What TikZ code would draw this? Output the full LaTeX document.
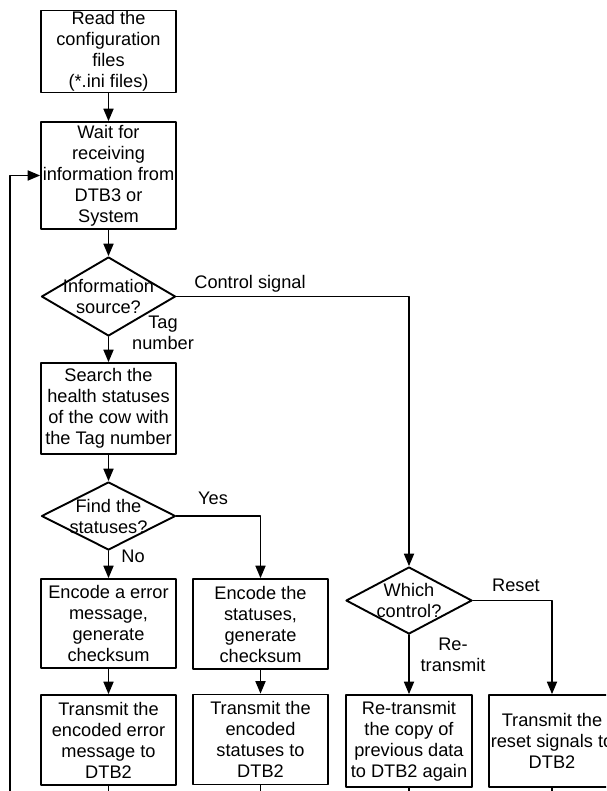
\documentclass[tikz,border=0pt]{standalone}
\usepackage{fontspec}
\setmainfont{Liberation Sans}
\usetikzlibrary{arrows,shapes.geometric}

\begin{document}
\begin{tikzpicture}[line cap=round,line join=round,>=triangle 45,x=1pt,y=-1pt,line width=1.9pt,
	every node/.style={font=\fontsize{18.2}{21}\selectfont,inner sep=0pt},
	box/.style={draw,align=center,minimum width=135pt},
	nbox/.style={box,minimum width=126pt},
	dia/.style={diamond,draw,minimum width=134pt},
	lbl/.style={align=center}]
			\clip(0,0) rectangle (606,791);
			% left column
			\node[box,minimum height=82pt] (read) at (108.5,51.5) {Read the\\configuration\\files\\(*.ini files)};
			\node[box,minimum height=107pt] (wait) at (108.5,175.5) {Wait for\\receiving\\information from\\DTB3 or\\System};
			\node[dia,minimum height=79pt,label={[lbl]center:Information\\source?}] (src) at (108.5,296.5) {};
			\node[box,minimum height=91pt] (search) at (108.5,408.5) {Search the\\health statuses\\of the cow with\\the Tag number};
			\node[dia,minimum height=68pt,label={[lbl]center:Find the\\statuses?}] (find) at (108.5,516) {};
			\node[box,minimum height=89pt] (encerr) at (108.5,623.5) {Encode a error\\message,\\generate\\checksum};
			\node[box,minimum height=90pt] (txerr) at (108.5,740) {Transmit the\\encoded error\\message to\\DTB2};
			% second column
			\node[box,minimum height=90pt] (encsta) at (260.5,624) {Encode the\\statuses,\\generate\\checksum};
			\node[box,minimum height=90pt] (txsta) at (260.5,739.5) {Transmit the\\encoded\\statuses to\\DTB2};
			% control branch
			\node[dia,minimum width=126pt,minimum height=67pt,label={[lbl]center:Which\\control?}] (which) at (409,600.5) {};
			\node[nbox,minimum height=92pt] (retx) at (409,741) {Re-transmit\\the copy of\\previous data\\to DTB2 again};
			\node[nbox,minimum height=92pt] (txrst) at (552,741) {Transmit the\\reset signals to\\DTB2};
			\coordinate (fb) at (10,800);
			% connectors
			\draw[->] (read) -- (wait);
			\draw[->] (wait) -- (src);
			\draw[->] (src) -- (search);
			\draw[->] (search) -- (find);
			\draw[->] (find) -- (encerr);
			\draw[->] (find.east) -| (encsta.north);
			\draw[->] (encerr) -- (txerr);
			\draw[->] (encsta) -- (txsta);
			\draw[->] (src.east) -| (which.north);
			\draw[->] (which) -- (retx);
			\draw[->] (which.east) -| (txrst.north);
			\draw[->] (fb) |- (wait.west);
			\foreach \n in {txerr,txsta,retx,txrst}
				\draw (\n.south) -- (\n.south |- fb);
			% labels
			\node (lctrl) at (250,284) {Control signal};
			\node[lbl] (ltag) at (163,333) {Tag\\number};
			\node (lyes) at (213,498) {Yes};
			\node (lno) at (133,556) {No};
			\node (lrst) at (516,585) {Reset};
			\node[lbl] (lretx) at (453,655) {Re-\\transmit};
		\end{tikzpicture}
\end{document}
